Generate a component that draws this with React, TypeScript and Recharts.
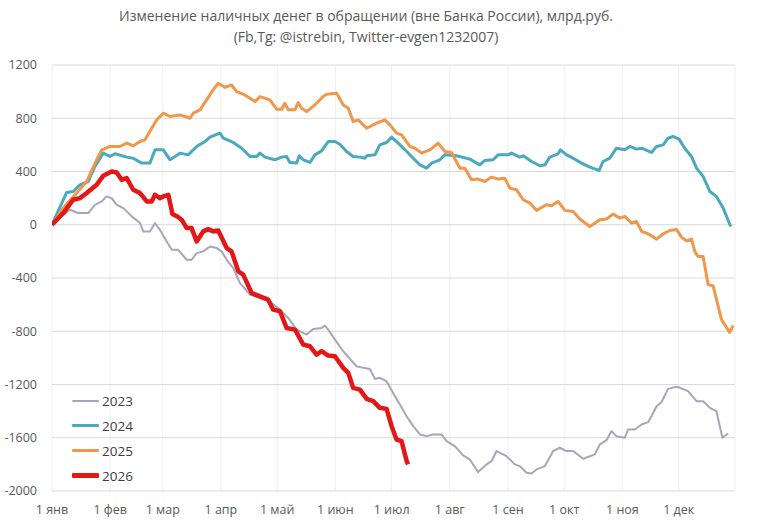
import React from "react";
import { LineChart, Line, XAxis, YAxis, CartesianGrid, Legend } from "recharts";

// day-of-year (0 = 1 Jan), value in bn RUB
const s2023: [number, number][] = [
  [0, 0], [5, 60], [9.6, 113], [14, 88], [19.3, 88], [22.9, 150], [26.5, 175], [29, 213], [31.8, 200],
  [34.5, 150], [38, 125], [42.5, 63], [46.9, 13], [48.6, -50], [52.2, -50], [54.9, 13], [57.5, -38],
  [61.1, -125], [63.8, -188], [67.3, -188], [71.8, -263], [74.4, -263], [77.1, -213], [80.6, -200],
  [84.2, -163], [87.7, -175], [90.4, -200], [93.1, -263], [96.6, -325], [100.2, -438], [105.5, -525],
  [110.8, -550], [116.1, -575], [121.5, -638], [125.9, -700], [130.4, -788], [135.7, -825], [139.2, -783],
  [143.7, -775], [145.4, -758], [147.2, -788], [150.8, -863], [155.2, -950], [158.8, -1008], [162.3, -1063],
  [165.9, -1075], [169.4, -1083], [172.1, -1158], [174.7, -1150], [178.3, -1175], [181.8, -1263],
  [185.4, -1350], [189, -1438], [192.5, -1513], [196.1, -1575], [199.6, -1588], [203.1, -1575],
  [207.6, -1575], [210.3, -1625], [214.7, -1663], [219.1, -1733], [222.7, -1763], [227.1, -1858],
  [231.6, -1800], [234.3, -1775], [236.9, -1700], [242.2, -1738], [246.7, -1800], [249.3, -1813],
  [252.9, -1863], [255.6, -1868], [258.2, -1838], [262.7, -1813], [267.1, -1700], [270.6, -1675],
  [274.2, -1700], [277.7, -1700], [283.1, -1758], [289.3, -1725], [292, -1650], [295.5, -1618],
  [298.2, -1550], [300.8, -1588], [305.3, -1600], [307, -1538], [310.6, -1538], [314.2, -1500],
  [317.7, -1483], [319.5, -1438], [322.2, -1363], [324.8, -1333], [328.3, -1233], [332.8, -1217],
  [334.6, -1225], [339, -1250], [343.5, -1325], [347, -1325], [350.6, -1375], [354.1, -1400],
  [357.3, -1600], [360.3, -1568],
];

const s2024: [number, number][] = [
  [0, 0], [7.8, 243], [11.3, 250], [14.9, 300], [19.3, 325], [22.9, 438], [27.3, 538], [30.9, 513],
  [33.6, 533], [39.8, 508], [43.3, 500], [47.8, 463], [52.2, 463], [54.9, 563], [59.3, 563], [62.9, 488],
  [68.2, 538], [72.6, 525], [77.1, 588], [81.5, 625], [84.2, 658], [89.5, 688], [91.3, 650], [96.6, 618],
  [101.1, 575], [105.5, 513], [109.1, 513], [110.8, 538], [113.5, 508], [118.8, 488], [122.4, 508],
  [125, 513], [126.8, 468], [130.4, 463], [131.8, 518], [133.9, 488], [137.5, 468], [140.1, 525],
  [143.7, 555], [147.2, 625], [150.8, 625], [153.4, 605], [157, 550], [160.5, 513], [164.1, 508],
  [166.8, 500], [167.7, 518], [172.1, 525], [174.7, 600], [178.3, 618], [181, 658], [184.5, 613],
  [188.1, 563], [192.5, 500], [196.1, 450], [199.6, 425], [202.3, 463], [206.7, 488], [209.4, 525],
  [215.6, 518], [222.7, 493], [228, 450], [230.7, 483], [235.1, 488], [237.8, 525], [243.1, 525],
  [244.9, 538], [249.3, 508], [251.1, 518], [255.6, 475], [260, 443], [262.7, 450], [265.3, 508],
  [269.7, 533], [271, 563], [274.2, 525], [277.7, 500], [282.2, 463], [286.6, 433], [291.6, 408],
  [293.7, 475], [297.3, 500], [300.8, 575], [305.3, 563], [307.9, 588], [311.5, 568], [314.2, 575],
  [319.5, 543], [322.2, 588], [325.7, 600], [328.3, 650], [331, 663], [334.2, 643], [337.2, 575],
  [340.8, 513], [343.5, 425], [347, 363], [350.6, 250], [354.1, 213], [357.7, 125], [361.7, -13],
];

const s2025: [number, number][] = [
  [0, 0], [6, 125], [13.1, 238], [18.5, 325], [23.8, 488], [26.5, 562], [30.9, 588], [36.2, 588],
  [39.8, 613], [43.3, 593], [46.9, 625], [49.5, 637], [55.8, 788], [59.3, 838], [62.9, 813], [68.2, 825],
  [73.5, 800], [75.3, 838], [78.9, 863], [82.4, 938], [85.9, 1013], [88.6, 1063], [92.2, 1033],
  [95.7, 1050], [98.4, 1000], [102.8, 975], [108.2, 925], [110.8, 963], [116.1, 938], [119.7, 868],
  [122.4, 868], [124.1, 913], [125.9, 863], [129.5, 863], [131.2, 918], [133, 875], [135.7, 850],
  [140.1, 900], [144.5, 963], [146.4, 980], [151.7, 988], [155.2, 900], [157.9, 875], [160.5, 775],
  [163.2, 788], [167.7, 725], [173, 763], [177.4, 788], [180.1, 750], [183.6, 688], [186.3, 675],
  [190.7, 588], [193.4, 575], [197, 538], [201.4, 563], [205.8, 613], [209.4, 550], [212.9, 543],
  [217.4, 425], [220, 425], [223.6, 338], [227.1, 343], [230.7, 325], [234.3, 358], [237.8, 343],
  [241.3, 350], [244, 275], [247.6, 263], [251.1, 188], [254.7, 163], [258.2, 108], [263.5, 150],
  [266.2, 143], [269.7, 175], [273.3, 108], [277.7, 100], [281.3, 43], [286.6, -13], [292, 38],
  [295.5, 43], [299, 80], [302.6, 50], [305.3, 63], [308.8, 13], [311.5, 25], [314.2, -50], [317.7, -68],
  [322.2, -108], [325.7, -68], [329.2, -43], [332.8, -35], [335.5, -93], [338.1, -120], [340.8, -108],
  [342.6, -200], [344.3, -238], [347, -238], [349.7, -450], [352.3, -458], [356.8, -713], [358.5, -750],
  [361.2, -808], [363, -758],
];

const s2026: [number, number][] = [
  [0, 0], [6, 88], [11.3, 188], [14.9, 200], [18.5, 238], [23.8, 300], [27.3, 368], [31.8, 400],
  [34.5, 393], [37.1, 338], [39.8, 350], [43.3, 263], [46.9, 238], [50.5, 175], [53.1, 175], [54.9, 225],
  [57.5, 200], [59.3, 213], [62, 225], [64.2, 80], [67, 60], [69.1, 38], [71.8, -25], [74.4, -25],
  [77.1, -125], [80.6, -50], [83.3, -33], [85.9, -50], [88.6, -43], [93.1, -175], [95.7, -200],
  [99.3, -350], [101.9, -375], [106.4, -513], [110.8, -538], [115.2, -563], [117.9, -638], [121.5, -650],
  [125, -775], [129.5, -788], [133.9, -900], [137.5, -913], [141, -975], [143.7, -950], [147.2, -983],
  [150.8, -988], [155.2, -1075], [157.9, -1113], [160.5, -1225], [164.1, -1238], [167.7, -1308],
  [171.2, -1325], [174.7, -1375], [178.3, -1383], [181, -1513], [183.6, -1613], [186.3, -1625],
  [189, -1775], [189.8, -1800],
];

const monthDays = [0, 31, 59, 90, 120, 151, 181, 212, 243, 273, 304, 334, 364];
const monthLabels = ["1 янв", "1 фев", "1 мар", "1 апр", "1 май", "1 июн", "1 июл", "1 авг", "1 сен", "1 окт", "1 ноя", "1 дек", ""];
const yTicks = [-2000, -1600, -1200, -800, -400, 0, 400, 800, 1200];

const seriesNames = ["2023", "2024", "2025", "2026"];
const seriesColors = ["#a5a5bd", "#4aa8bf", "#f0974a", "#e41616"];
const seriesWidths = [2, 3, 3, 4.5];

const toRows = (s: [number, number][]) => s.map(([d, v]) => ({ d, v }));
const allSeries = [s2023, s2024, s2025, s2026].map(toRows);

const FONT = "'Open Sans', 'Noto Sans', sans-serif";

const renderLegend = () => (
  <div style={{ fontFamily: FONT }}>
    {seriesNames.map((n, i) => (
      <div key={n} style={{ display: "flex", alignItems: "center", height: 25 }}>
        <div style={{ width: 27, height: seriesWidths[i], background: seriesColors[i], borderRadius: 1 }} />
        <span style={{ marginLeft: 3, fontSize: 13.5, color: "#404040" }}>{n}</span>
      </div>
    ))}
  </div>
);

export default function App() {
  return (
    <div style={{ position: "absolute", left: 0, top: 0, width: 758, height: 530, background: "#fff", fontFamily: FONT }}>
      <div style={{ position: "absolute", left: 0, top: 5, width: 732, textAlign: "center", fontSize: 14, lineHeight: "21px", color: "#595959" }}>
        <div>Изменение наличных денег в обращении (вне Банка России), млрд.руб.</div>
        <div>(Fb,Tg: @istrebin, Twitter-evgen1232007)</div>
      </div>
      <div style={{ position: "absolute", left: 0, top: 0 }}>
        <LineChart width={758} height={530} margin={{ top: 65, right: 23, bottom: 0, left: 0 }}>
          <CartesianGrid vertical={true} horizontal={false} stroke="#efefef" />
          <CartesianGrid vertical={false} horizontal={true} stroke="#d9d9d9" />
          <XAxis
            type="number"
            dataKey="d"
            domain={[0, 364]}
            ticks={monthDays}
            interval={0}
            allowDataOverflow
            height={39}
            axisLine={false}
            tickLine={false}
            tickSize={0}
            tickMargin={14}
            tickFormatter={(v: number) => monthLabels[monthDays.indexOf(v)] ?? ""}
            tick={{ fill: "#595959", fontSize: 12.5, fontFamily: FONT }}
          />
          <YAxis
            type="number"
            domain={[-2000, 1200]}
            ticks={yTicks}
            interval={0}
            width={52}
            axisLine={false}
            tickLine={false}
            tickSize={0}
            tickMargin={15}
            tick={{ fill: "#595959", fontSize: 12.5, fontFamily: FONT }}
          />
          <Legend
            content={renderLegend}
            layout="vertical"
            align="center"
            verticalAlign="middle"
            wrapperStyle={{ position: "absolute", left: 72, top: 388, width: 90 }}
          />
          {allSeries.map((rows, i) => (
            <Line
              key={seriesNames[i]}
              data={rows}
              dataKey="v"
              name={seriesNames[i]}
              type="linear"
              stroke={seriesColors[i]}
              strokeWidth={seriesWidths[i]}
              strokeLinejoin="round"
              dot={false}
              activeDot={false}
              isAnimationActive={false}
            />
          ))}
        </LineChart>
      </div>
    </div>
  );
}
